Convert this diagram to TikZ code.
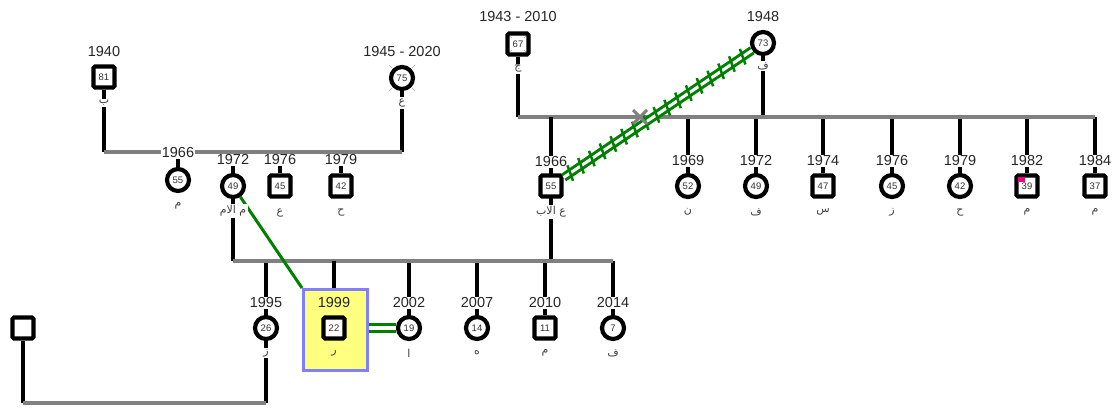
\documentclass[tikz,border=0pt]{standalone}
\usepackage{fontspec}
\setmainfont{Liberation Sans}
\newfontfamily\arabicfont[Script=Arabic]{DejaVu Sans}
\TeXXeTstate=1
\usetikzlibrary{decorations.markings}
\definecolor{kingreen}{RGB}{0,128,0}
\definecolor{boxblue}{RGB}{128,128,255}
\definecolor{boxyellow}{RGB}{255,255,128}
\definecolor{bondgray}{RGB}{128,128,128}
\pgfdeclarelayer{background}
\pgfsetlayers{background,main}
\tikzset{
  male/.style={draw,line width=4.2pt,fill=white,rounded corners=1.5pt,minimum size=21pt,inner sep=0pt,font=\fontsize{9.5}{9.5}\selectfont,text=black!80},
  female/.style={circle,draw,line width=4.2pt,fill=white,minimum size=22pt,inner sep=0pt,font=\fontsize{9.5}{9.5}\selectfont,text=black!80},
  yr/.style={fill=white,inner sep=1pt,font=\fontsize{14.5}{14.5}\selectfont,text=black!85},
  nm/.style={fill=white,inner sep=1.5pt,font=\arabicfont\fontsize{11}{11}\selectfont,text=black!75},
  kin/.style={line width=4pt},
  bond/.style={line width=4pt,bondgray},
  dead/.style={bondgray!70,line width=0.6pt},
  wed/.style={kingreen,line width=3pt,double=white,double distance=4.5pt},
  hatchline/.style={kingreen,line width=3pt,double=white,double distance=3pt},
  hatchticks/.style={postaction={decorate},decoration={markings,
    mark=between positions 8pt and -8pt step 13pt with {\draw[kingreen,line width=2.5pt] (-2pt,-8pt) -- (2pt,8pt);}}}
}
\begin{document}
\begin{tikzpicture}[x=1pt,y=-1pt]
\useasboundingbox (0,0) rectangle (1117,408);
% mother's parents
\node[male] (g81) at (104,77) {81};
\node[yr] (y81) at (104,52) {1940};
\node[nm] (n81) at (104,103) {\beginR ب\endR};
\node[female] (g75) at (402,78) {75};
\node[yr] (y75) at (402,52) {1945 - 2020};
\node[nm] (n75) at (402,103) {\beginR ع\endR};
\coordinate (tlL) at (104,152);
\coordinate (tlR) at (402,152);
% mother and her siblings
\node[female] (a55) at (178,180) {55};
\node[yr] (ya55) at (178,153) {1966};
\node[nm] (na55) at (178,206) {\beginR م\endR};
\node[female] (m49) at (233,186) {49};
\node[yr] (ym49) at (233,160) {1972};
\node[nm] (nm49) at (233,211) {\beginR م الام\endR};
\node[male] (a45) at (280,186) {45};
\node[yr] (ya45) at (280,160) {1976};
\node[nm] (na45) at (280,213) {\beginR ع\endR};
\node[male] (a42) at (341,186) {42};
\node[yr] (ya42) at (341,160) {1979};
\node[nm] (na42) at (341,213) {\beginR ح\endR};
% father's parents
\node[male] (g67) at (518,44) {67};
\node[yr] (y67) at (518,17) {1943 - 2010};
\node[nm] (n67) at (518,69) {\beginR ج\endR};
\node[female] (g73) at (763,43) {73};
\node[yr] (y73) at (763,17) {1948};
\node[nm] (n73) at (763,66) {\beginR ف\endR};
\coordinate (trL) at (518,117);
\coordinate (trR) at (1095,117);
\coordinate (sep) at (640,117);
% father and his siblings
\node[male] (f55) at (551,186) {55};
\node[yr] (yf55) at (551,162) {1966};
\node[nm] (nf55) at (551,212) {\beginR ع الاب\endR};
\foreach \x/\s/\a/\yy/\lbl in {688/female/52/1969/ن,756/female/49/1972/ف,823/male/47/1974/س,892/female/45/1976/ز,960/female/42/1979/ح,1027/male/39/1982/م,1095/male/37/1984/م}{
  \node[\s] (c\a) at (\x,186) {\a};
  \node[yr] (yc\a) at (\x,161) {\yy};
  \node[nm] (nc\a) at (\x,212) {\beginR\lbl\endR};
  \begin{pgfonlayer}{background}
    \draw[kin] (c\a) -- (c\a |- trL);
  \end{pgfonlayer}
}
\fill[magenta] ([shift={(-9,-9)}]c39.center) rectangle ++(7,5);
% children
\coordinate (bL) at (233,261);
\coordinate (bR) at (613,261);
\node[draw=boxblue,fill=boxyellow,line width=3pt,minimum width=64pt,minimum height=81pt] (focus) at (335.5,330) {};
\node[male] (k22) at (334,328) {22};
\node[yr,fill=boxyellow] (yk22) at (334,303) {1999};
\node[nm,fill=boxyellow] (nk22) at (334,353) {\beginR ر\endR};
\foreach \x/\s/\a/\yy/\lbl in {266/female/26/1995/ز,409/female/19/2002/ا,477/female/14/2007/ه,545/male/11/2010/م,613/female/7/2014/ف}{
  \node[\s] (k\a) at (\x,328) {\a};
  \node[yr] (yk\a) at (\x,303) {\yy};
  \node[nm] (nk\a) at (\x,353) {\beginR\lbl\endR};
  \begin{pgfonlayer}{background}
    \draw[kin] (k\a) -- (k\a |- bL);
  \end{pgfonlayer}
}
\node[male] (x0) at (23,328) {};
\coordinate (lowL) at (23,403);
\coordinate (lowR) at (266,403);
% deceased marks
\foreach \sx/\sy in {-1/-1,1/-1,-1/1,1/1}
  \draw[dead] ([shift={(\sx*8,\sy*8)}]g67.center) -- ([shift={(\sx*6,\sy*6)}]g67.center);
\begin{pgfonlayer}{background}
\foreach \sx/\sy in {-1/-1,1/-1,-1/1,1/1}
  \draw[dead] ([shift={(\sx*10,\sy*10)}]g75.center) -- ([shift={(\sx*13,\sy*13)}]g75.center);
% lines of descent
\draw[kin] (g81) -- (tlL);
\draw[kin] (g75) -- (tlR);
\draw[bond] (tlL) -- (tlR);
\draw[kin] (ya55) -- (a55);
\draw[kin] (ya45) -- (a45);
\draw[kin] (ya42) -- (a42);
\draw[kin] (ym49) -- (bL);
\draw[kin] (g67) -- (trL);
\draw[kin] (g73) -- (g73 |- trL);
\draw[bond] (trL) -- (trR);
\draw[kin] (f55 |- trL) -- (f55 |- bL);
\draw[bond] (bL) -- (bR);
\draw[kin] (k22 |- bL) -- (k22 |- focus.north);
\draw[kin] (k26) -- (lowR);
\draw[kin] (x0) -- (lowL);
\draw[bond] (lowL) -- (lowR);
\draw[kingreen,line width=3pt] (m49) -- (focus.north west);
\end{pgfonlayer}
% partner links
\draw[wed] (focus.east |- k19) -- (k19);
\draw[hatchline] (f55) -- (g73);
\path[hatchticks] (f55) -- (g73);
\draw[bondgray,line width=3pt] ([shift={(-7,-7)}]sep) -- ([shift={(7,7)}]sep)
  ([shift={(-7,7)}]sep) -- ([shift={(7,-7)}]sep);
\end{tikzpicture}
\end{document}
